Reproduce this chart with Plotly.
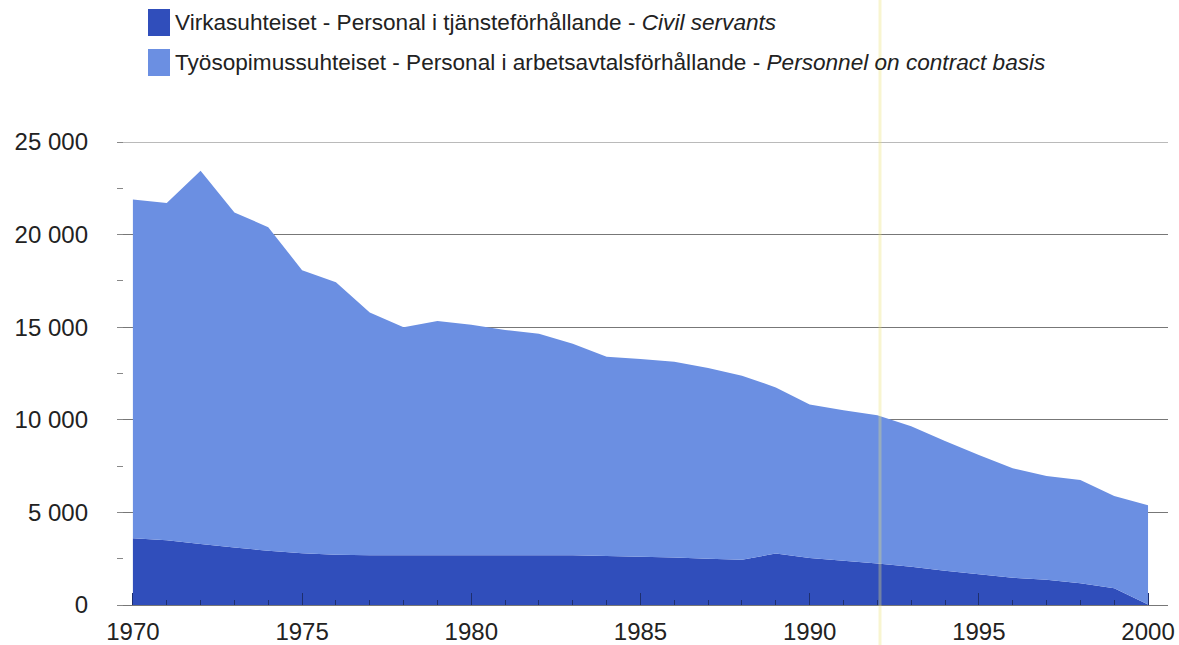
import plotly.graph_objects as go

years = list(range(1970, 2001))
civil_servants = [3600, 3500, 3300, 3100, 2930, 2800, 2720, 2690, 2680, 2680,
                  2680, 2680, 2680, 2680, 2640, 2600, 2560, 2500, 2440, 2780,
                  2540, 2390, 2240, 2070, 1850, 1660, 1470, 1370, 1180, 900, 30]
contract_basis = [18300, 18200, 20150, 18100, 17470, 15280, 14710, 13110, 12320, 12650,
                  12450, 12170, 11960, 11420, 10760, 10680, 10580, 10300, 9940, 8970,
                  8290, 8130, 8010, 7580, 7000, 6440, 5910, 5590, 5570, 4980, 5360]
legend_labels = [
    "Virkasuhteiset - Personal i tjänsteförhållande - <i>Civil servants</i>",
    "Työsopimussuhteiset - Personal i arbetsavtalsförhållande - <i>Personnel on contract basis</i>",
]
x_ticks = [1970, 1975, 1980, 1985, 1990, 1995, 2000]
y_ticks = [0, 5000, 10000, 15000, 20000, 25000]

DARK = "#304ebb"
LIGHT = "#6b8fe2"
FONT = "Liberation Sans, Arial, sans-serif"

W, H = 1179, 645
L, R, T, B = 117, 11, 142, 40
PW, PH = W - L - R, H - T - B
BOTTOM = H - B


def px(x):
    return (x - L) / PW


def py(y):
    return (BOTTOM - y) / PH


fig = go.Figure()
fig.add_trace(go.Scatter(x=years, y=civil_servants, stackgroup="one", mode="none",
                         fillcolor=DARK, name=legend_labels[0], showlegend=False))
fig.add_trace(go.Scatter(x=years, y=contract_basis, stackgroup="one", mode="none",
                         fillcolor=LIGHT, name=legend_labels[1], showlegend=False))

# gridline at the very top of the range
fig.add_shape(type="line", xref="paper", yref="y", x0=0, x1=1, y0=25000, y1=25000,
              line=dict(color="#777", width=1), layer="below")

# manual legend
for i, (lab, col) in enumerate(zip(legend_labels, [DARK, LIGHT])):
    y_top = 9 + i * 40
    fig.add_shape(type="rect", xref="paper", yref="paper",
                  x0=px(148), x1=px(170), y0=py(y_top), y1=py(y_top + 27),
                  fillcolor=col, line=dict(width=0))
    fig.add_annotation(xref="paper", yref="paper", x=px(173), y=py(y_top + 13),
                       xanchor="left", yanchor="middle", text=lab, showarrow=False,
                       font=dict(family=FONT, size=22.6, color="#222"))

# scan artifact line
fig.add_shape(type="line", xref="paper", yref="paper",
              x0=px(880), x1=px(880), y0=py(H), y1=py(0),
              line=dict(color="rgba(235,225,120,0.35)", width=3), layer="above")

fig.update_layout(
    width=W, height=H,
    margin=dict(l=L, r=R, t=T, b=B, autoexpand=False),
    paper_bgcolor="white", plot_bgcolor="white",
    separators=". ",
    font=dict(family=FONT, size=24, color="#222"),
    xaxis=dict(range=[1969.53, 2000.59], tickvals=x_ticks, ticks="inside",
               ticklen=12, tickcolor="#1e2f6e", tickwidth=1,
               minor=dict(dtick=1, ticks="inside", ticklen=5, tickcolor="#1e2f6e"),
               showgrid=False, showline=True, linecolor="#777", linewidth=1,
               zeroline=False, ticklabelstandoff=5, automargin=False,
               tickfont=dict(size=24, color="#222")),
    yaxis=dict(range=[0, 25000], tickvals=y_ticks, tickformat=",d",
               showgrid=True, gridcolor="#777", gridwidth=1, zeroline=False,
               showline=False, ticks="", ticklabelstandoff=28, automargin=False,
               minor=dict(dtick=2500, ticks="inside", ticklen=6, tickcolor="#888"),
               tickfont=dict(size=24, color="#222")),
)

fig.write_html(
    "out.html",
    config={"displayModeBar": False, "responsive": False},
    post_script="document.body.style.margin='0';document.body.style.overflow='hidden';",
)
